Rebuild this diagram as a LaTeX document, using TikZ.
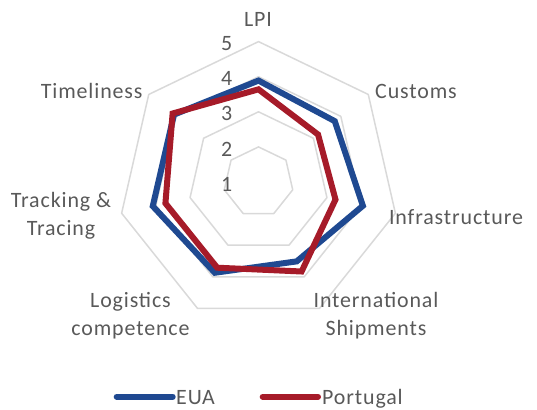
\documentclass[tikz,border=0pt]{standalone}
\usepackage{fontspec}
\setmainfont{Carlito}[LetterSpace=4]
\usetikzlibrary{positioning}

\definecolor{euablue}{RGB}{31,73,145}
\definecolor{ptred}{RGB}{166,27,41}
\definecolor{gridgray}{RGB}{217,217,217}
\definecolor{textgray}{RGB}{89,89,89}

\begin{document}
\begin{tikzpicture}[line cap=round,line join=round,x=1bp,y=1bp,
  ring/.style={draw=gridgray,line width=1.5bp},
  series/.style={line width=6bp,line join=miter},
  lbl/.style={text=textgray,font=\fontsize{22}{28}\selectfont,align=center,inner sep=0pt},
  tick/.style={text=textgray,font=\fontsize{22}{28}\selectfont,inner sep=0pt,anchor=east}]
\useasboundingbox (0,0) rectangle (537,409);

\begin{scope}[shift={(258.5,227)}]
% rings 2..5
\foreach \r in {1,...,4}
  \draw[ring] (90:{35.1*\r}) \foreach \k in {1,...,6} {-- ({90-\k*360/7}:{35.1*\r})} -- cycle;

% values
\foreach \v [count=\k from 0] in {3.89,3.78,4.05,3.51,3.87,4.09,4.08}
  \coordinate (e\k) at ({90-\k*360/7}:{35.1*(\v-1)});
\foreach \v [count=\k from 0] in {3.64,3.17,3.25,3.83,3.71,3.72,4.13}
  \coordinate (p\k) at ({90-\k*360/7}:{35.1*(\v-1)});

\draw[series,euablue] (e0)--(e1)--(e2)--(e3)--(e4)--(e5)--(e6)--cycle;
\draw[series,ptred] (p0)--(p1)--(p2)--(p3)--(p4)--(p5)--(p6)--cycle;

% axis numbers
\foreach \v in {1,...,5}
  \node[tick] (t\v) at (-26,{35.1*(\v-1)-2}) {\v};
\end{scope}

% categories
\node[lbl] (lpi) at (258,390) {LPI};
\node[lbl] (customs) at (416,317.3) {Customs};
\node[lbl] (infra) at (456,192.3) {Infrastructure};
\node[lbl] (intl) at (376,93) {International\\Shipments};
\node[lbl] (logist) at (130.5,93) {Logistics\\competence};
\node[lbl] (track) at (61,193.2) {Tracking \&\\Tracing};
\node[lbl] (timely) at (91.7,318.3) {Timeliness};

% legend
\coordinate (eua0) at (116.7,12.3);
\coordinate (eua1) at (172.7,12.3);
\coordinate (pt0) at (262.7,12.3);
\coordinate (pt1) at (318,12.3);
\draw[euablue,line width=6bp] (eua0) -- (eua1);
\draw[ptred,line width=6bp] (pt0) -- (pt1);
\node[lbl,anchor=base west] (euakey) at (176,4.7) {EUA};
\node[lbl,anchor=base west] (ptkey) at (322,4.7) {Portugal};
\end{tikzpicture}
\end{document}
